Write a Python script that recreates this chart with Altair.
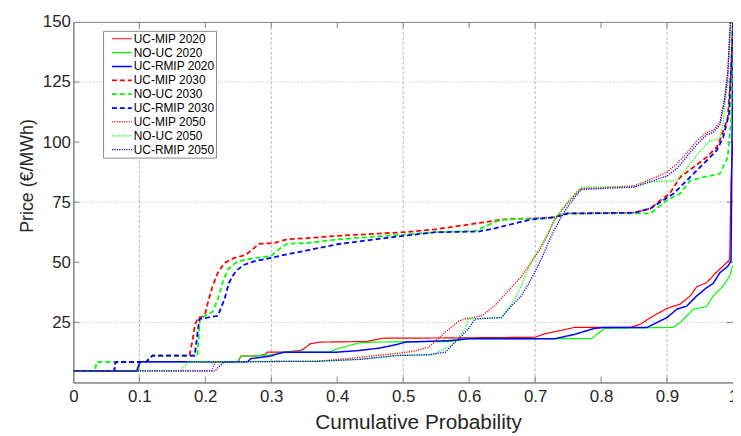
import altair as alt
import pandas as pd

# ---------------- data ----------------
series = ["UC-MIP 2020", "NO-UC 2020", "UC-RMIP 2020",
          "UC-MIP 2030", "NO-UC 2030", "UC-RMIP 2030",
          "UC-MIP 2050", "NO-UC 2050", "UC-RMIP 2050"]

mip20_x = [0, 0.098, 0.101, 0.25, 0.254, 0.274, 0.29, 0.294, 0.319, 0.345, 0.352, 0.359, 0.374, 0.444, 0.469, 0.56, 0.7, 0.714, 0.745, 0.76, 0.845, 0.86, 0.875, 0.9, 0.92, 0.935, 0.945, 0.96, 0.975, 0.99, 0.995, 0.997, 1.0]
mip20_y = [4.8, 4.8, 8.6, 8.6, 11.0, 11.0, 11.5, 12.6, 12.6, 13.3, 14.5, 16.1, 16.8, 17.0, 18.4, 18.5, 18.8, 20.2, 22.0, 22.9, 22.9, 24.3, 27.0, 30.8, 32.6, 36.0, 39.8, 41.5, 45.9, 49.7, 51.1, 84.0, 101.0]

nouc20_x = [0, 0.098, 0.101, 0.249, 0.254, 0.274, 0.30, 0.319, 0.389, 0.399, 0.434, 0.454, 0.57, 0.599, 0.785, 0.805, 0.91, 0.92, 0.94, 0.96, 0.97, 0.985, 0.995, 0.999, 1.0]
nouc20_y = [4.8, 4.8, 8.6, 8.6, 11.0, 11.0, 11.5, 12.6, 12.6, 14.0, 16.5, 16.8, 17.0, 18.2, 18.2, 22.5, 22.9, 25.0, 30.5, 31.6, 36.0, 40.1, 44.2, 48.3, 48.5]

rmip20_x = [0, 0.096, 0.101, 0.264, 0.269, 0.299, 0.319, 0.399, 0.434, 0.464, 0.489, 0.504, 0.569, 0.599, 0.73, 0.76, 0.79, 0.805, 0.87, 0.885, 0.9, 0.915, 0.93, 0.945, 0.96, 0.97, 0.98, 0.992, 0.997, 1.0]
rmip20_y = [4.8, 4.8, 8.6, 8.6, 9.9, 11.0, 12.6, 12.6, 13.3, 14.3, 15.7, 16.8, 17.4, 18.2, 18.2, 20.0, 22.5, 22.9, 22.9, 25.0, 27.0, 30.5, 31.8, 36.0, 39.4, 41.2, 45.6, 48.3, 50.4, 150.0]

mip30_x = [0, 0.062, 0.064, 0.11, 0.12, 0.176, 0.181, 0.184, 0.189, 0.199, 0.204, 0.211, 0.219, 0.229, 0.244, 0.261, 0.274, 0.281, 0.304, 0.324, 0.354, 0.4, 0.5, 0.549, 0.594, 0.629, 0.649, 0.699, 0.729, 0.75, 0.85, 0.875, 0.89, 0.904, 0.92, 0.94, 0.96, 0.975, 0.982, 0.992, 0.997, 1.0]
mip30_y = [4.8, 4.8, 8.5, 8.5, 11.2, 11.2, 18.0, 23.6, 27.0, 27.6, 33.3, 40.0, 45.6, 49.7, 51.8, 53.0, 55.9, 57.7, 58.0, 59.6, 60.0, 61.0, 62.5, 63.7, 65.5, 66.9, 67.8, 68.3, 68.7, 70.3, 70.6, 72.4, 75.8, 78.6, 85.4, 89.5, 93.7, 97.8, 101.9, 110.2, 129.0, 150.0]

nouc30_x = [0, 0.033, 0.035, 0.11, 0.12, 0.188, 0.192, 0.196, 0.211, 0.219, 0.226, 0.234, 0.249, 0.274, 0.299, 0.314, 0.324, 0.354, 0.4, 0.5, 0.549, 0.609, 0.624, 0.639, 0.654, 0.72, 0.745, 0.875, 0.9, 0.92, 0.935, 0.955, 0.98, 0.992, 0.997, 1.0]
nouc30_y = [4.8, 4.8, 8.5, 8.5, 11.2, 11.2, 26.4, 27.2, 29.4, 34.6, 41.6, 47.0, 50.4, 51.8, 52.5, 55.9, 57.7, 58.0, 59.5, 61.5, 62.5, 63.0, 64.8, 66.9, 67.8, 68.3, 70.3, 70.3, 75.8, 78.6, 84.0, 85.4, 86.8, 93.7, 108.8, 150.0]

rmip30_x = [0, 0.062, 0.064, 0.11, 0.12, 0.184, 0.188, 0.191, 0.219, 0.229, 0.236, 0.246, 0.259, 0.274, 0.299, 0.329, 0.354, 0.4, 0.5, 0.549, 0.614, 0.639, 0.669, 0.694, 0.729, 0.75, 0.85, 0.875, 0.91, 0.925, 0.94, 0.96, 0.975, 0.985, 0.994, 0.998, 1.0]
rmip30_y = [4.8, 4.8, 8.5, 8.5, 11.2, 11.2, 20.0, 26.4, 27.7, 34.6, 41.5, 46.3, 49.0, 50.4, 51.8, 53.6, 54.9, 57.5, 61.0, 62.5, 62.8, 64.1, 66.2, 67.8, 68.7, 70.3, 70.6, 72.4, 78.6, 82.7, 86.8, 92.3, 96.4, 101.9, 111.7, 136.0, 150.0]

mip50_x = [0, 0.21, 0.215, 0.369, 0.414, 0.484, 0.514, 0.539, 0.564, 0.584, 0.594, 0.619, 0.639, 0.659, 0.679, 0.699, 0.709, 0.72, 0.729, 0.739, 0.749, 0.76, 0.77, 0.85, 0.875, 0.9, 0.915, 0.93, 0.945, 0.96, 0.97, 0.98, 0.987, 0.992, 0.996, 1.0]
mip50_y = [4.8, 4.8, 8.6, 8.8, 9.9, 11.9, 12.9, 14.7, 21.0, 25.5, 26.4, 27.7, 32.0, 38.0, 44.0, 52.0, 56.0, 62.0, 67.6, 71.0, 74.5, 77.9, 80.6, 81.8, 84.5, 87.5, 91.0, 95.5, 100.5, 104.0, 105.0, 108.0, 118.0, 129.0, 150.0, 150.0]

nouc50_x = [0, 0.163, 0.174, 0.369, 0.434, 0.49, 0.544, 0.574, 0.594, 0.599, 0.649, 0.669, 0.679, 0.689, 0.699, 0.714, 0.727, 0.739, 0.749, 0.76, 0.77, 0.85, 0.87, 0.915, 0.935, 0.955, 0.965, 0.98, 0.985, 0.992, 0.997, 1.0]
nouc50_y = [4.8, 4.8, 8.6, 8.8, 9.6, 11.2, 11.6, 15.4, 22.3, 26.4, 27.0, 34.6, 40.1, 47.0, 52.5, 59.3, 66.2, 71.5, 75.0, 78.5, 81.3, 81.3, 83.4, 84.0, 91.0, 97.8, 100.5, 101.5, 108.0, 125.0, 150.0, 150.0]

rmip50_x = [0, 0.214, 0.229, 0.369, 0.434, 0.49, 0.539, 0.564, 0.579, 0.599, 0.609, 0.649, 0.664, 0.679, 0.694, 0.709, 0.722, 0.729, 0.739, 0.749, 0.76, 0.77, 0.85, 0.875, 0.9, 0.915, 0.93, 0.945, 0.96, 0.97, 0.98, 0.987, 0.992, 0.996, 1.0]
rmip50_y = [4.8, 4.8, 8.6, 8.8, 9.6, 11.2, 11.5, 12.6, 16.8, 22.3, 26.4, 27.0, 31.8, 36.0, 42.9, 51.1, 59.3, 63.4, 68.5, 73.0, 77.0, 80.3, 81.3, 83.5, 86.0, 89.0, 94.0, 99.0, 103.0, 104.0, 107.0, 117.0, 128.0, 150.0, 150.0]

x_ticks = [0, 0.1, 0.2, 0.3, 0.4, 0.5, 0.6, 0.7, 0.8, 0.9, 1]
y_ticks = [25, 50, 75, 100, 125, 150]
grid_x_vals = [0.1, 0.3, 0.5, 0.7, 0.9]
grid_y_vals = [25, 75, 125]
tick_x_vals = [0.1, 0.2, 0.3, 0.4, 0.5, 0.6, 0.7, 0.8, 0.9]
tick_y_vals = [25, 50, 75, 100, 125]

# ---------------- build table ----------------
all_x = [mip20_x, nouc20_x, rmip20_x, mip30_x, nouc30_x, rmip30_x, mip50_x, nouc50_x, rmip50_x]
all_y = [mip20_y, nouc20_y, rmip20_y, mip30_y, nouc30_y, rmip30_y, mip50_y, nouc50_y, rmip50_y]
rows = []
for name, xv, yv in zip(series, all_x, all_y):
    n = min(len(xv), len(yv))
    for i in range(n):
        rows.append({"series": name, "p": xv[i], "price": yv[i], "i": i})
df = pd.DataFrame(rows)

# ---------------- styling ----------------
W, H = 666, 364
FONT = "Liberation Sans"
AX = "#7f7f7f"
TXT = "#262626"
colors = ["#ff0000", "#00ff00", "#0000ff"] * 3
dashes = [[1, 0]] * 3 + [[5, 3]] * 3 + [[1.2, 1.2]] * 3
widths = [1.2, 1.2, 1.5, 1.8, 1.8, 1.8, 1.3, 1.3, 1.3]

xs = alt.Scale(domain=[0, 1], nice=False, zero=False)
ys = alt.Scale(domain=[0, 150], nice=False, zero=False)

x_axis = alt.Axis(
    title="Cumulative Probability", values=x_ticks, format="~g",
    grid=False, ticks=False, tickSize=0, domainColor=AX,
    labelFont=FONT, labelFontSize=17, labelColor=TXT, labelPadding=6,
    labelFlush=False, labelOverlap=False,
    titleFont=FONT, titleFontSize=21, titleFontWeight="normal", titleColor=TXT,
    titleX=348, titleY=46, titleAlign="center", titleBaseline="alphabetic")
y_axis = alt.Axis(
    title="Price (€/MWh)", values=y_ticks, format="d",
    grid=False, ticks=False, tickSize=0, domainColor=AX,
    labelFont=FONT, labelFontSize=17, labelColor=TXT, labelPadding=3,
    labelFlush=False, labelOverlap=False,
    titleFont=FONT, titleFontSize=18, titleFontWeight="normal", titleColor=TXT,
    titleAngle=270, titleX=-41, titleY=155, titleAlign="center",
    titleBaseline="alphabetic")

def X(field):
    return alt.X(field, scale=xs, axis=x_axis, title="Cumulative Probability")

def Y(field):
    return alt.Y(field, scale=ys, axis=y_axis, title="Price (€/MWh)")

leg = alt.Legend(title=None, orient="none", legendX=30, legendY=9,
                 fillColor="white", strokeColor="#8c8c8c", padding=1,
                 rowPadding=0, clipHeight=14, symbolOffset=7,
                 symbolType="stroke", symbolSize=400,
                 labelFontSize=12, labelFont=FONT, labelColor="black",
                 labelOffset=1, cornerRadius=0)

gx = alt.Chart(pd.DataFrame({"p": grid_x_vals})).mark_rule(
    color="#b4b4b4", strokeDash=[3, 2], strokeWidth=1
).encode(x=X("p:Q"))

gy = alt.Chart(pd.DataFrame({"price": grid_y_vals})).mark_rule(
    color="#b4b4b4", strokeDash=[1, 2], strokeWidth=1
).encode(y=Y("price:Q"))

lines = alt.Chart(df).mark_line(clip=True).encode(
    x=X("p:Q"),
    y=Y("price:Q"),
    color=alt.Color("series:N", scale=alt.Scale(domain=series, range=colors), legend=leg),
    strokeDash=alt.StrokeDash("series:N", scale=alt.Scale(domain=series, range=dashes), legend=leg),
    strokeWidth=alt.StrokeWidth("series:N", scale=alt.Scale(type="ordinal", domain=series, range=widths), legend=leg),
    order=alt.Order("i:Q"),
)

tx = alt.Chart(pd.DataFrame({"p": tick_x_vals})).mark_rule(color=AX, strokeWidth=1)
t_bottom = tx.encode(x=X("p:Q"), y=alt.value(H), y2=alt.value(H - 6))
t_top = tx.encode(x=X("p:Q"), y=alt.value(0), y2=alt.value(6))
ty = alt.Chart(pd.DataFrame({"price": tick_y_vals})).mark_rule(color=AX, strokeWidth=1)
t_left = ty.encode(y=Y("price:Q"), x=alt.value(0), x2=alt.value(6))
t_right = ty.encode(y=Y("price:Q"), x=alt.value(W), x2=alt.value(W - 6))

chart = alt.layer(gx, gy, t_bottom, t_top, t_left, t_right, lines).properties(
    width=W, height=H,
    padding={"left": 66, "top": 12, "right": 0, "bottom": 51},
    autosize=alt.AutoSizeParams(type="none"),
    background="white",
).configure_view(stroke=AX, strokeWidth=1)

chart.save("out.html", embed_options={"renderer": "svg", "actions": False})
